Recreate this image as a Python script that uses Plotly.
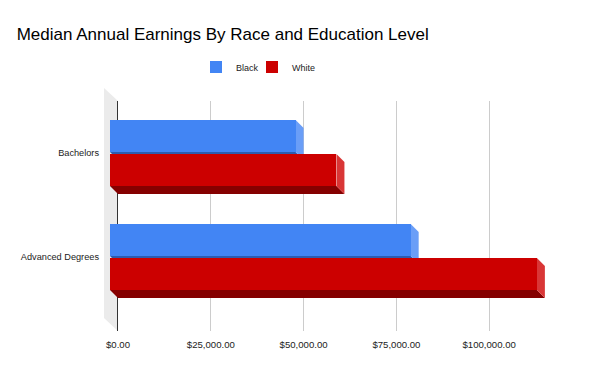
import plotly.graph_objects as go

# ---------------- data ----------------
categories = ["Bachelors", "Advanced Degrees"]
series_names = ["Black", "White"]
black_values = [50000, 81000]
white_values = [61000, 115000]
x_tick_values = [0, 25000, 50000, 75000, 100000, 125000]
x_tick_labels = ["$0.00", "$25,000.00", "$50,000.00", "$75,000.00", "$100,000.00", ""]
title_text = "Median Annual Earnings By Race and Education Level"

# ---------------- style / layout constants ----------------
OFF = 8                       # default page (body) margin of the html page
W, H = 600 - OFF, 371 - OFF
ML, MR, MT, MB = 92, 18, 77, 40
PW, PH = W - ML - MR, H - MT - MB
DEPTH = 8             # 3D offset in px (back plane is right/down of front)
BACK_LEFT = 18        # back plane starts at this px inside plot area
CAT_STEP = 104        # px between category centres
BAR_PX = 32           # bar thickness px
BAR_OFF = 17          # px from category centre to bar centre
X_MAX = 125000
FONT = "Liberation Sans, Arial, sans-serif"

front_colors = ["#4285f4", "#cc0000"]
side_colors = ["#6a9ef7", "#d93636"]
bottom_colors = ["#2c5cb0", "#850000"]

back_w = PW - BACK_LEFT
back_h = PH - DEPTH * 2
x_per_px = X_MAX / back_w


def px_to_paper_x(page_px):
    return (page_px - OFF - ML) / PW


def px_to_paper_y(page_py):
    return (H - MB - (page_py - OFF)) / PH


# front-plane y axis in category units: Advanced=0, Bachelors=1
n = len(categories)
cat_pos = {c: (n - 1 - i) for i, c in enumerate(categories)}
first_center_from_top = 60  # px
y_hi = (first_center_from_top + (n - 1) * CAT_STEP) / CAT_STEP
y_lo = y_hi - back_h / CAT_STEP
u = 1.0 / CAT_STEP

fig = go.Figure()

# invisible trace so the back-plane (grid) subplot is created
fig.add_trace(go.Scatter(x=[0], y=[0], mode="markers", marker=dict(opacity=0),
                         showlegend=False, hoverinfo="skip", xaxis="x", yaxis="y"))

shapes = []
all_values = [black_values, white_values]
legend_ids = ["legend", "legend2"]
dx = DEPTH * x_per_px
dy = DEPTH * u
h = BAR_PX * u / 2
for s, (name, vals) in enumerate(zip(series_names, all_values)):
    sign = 1 if s == 0 else -1
    centers = [cat_pos[c] + sign * BAR_OFF * u for c in categories]
    fig.add_trace(go.Bar(
        x=vals, y=centers, orientation="h", name=name, legend=legend_ids[s],
        width=BAR_PX * u, marker=dict(color=front_colors[s], line=dict(width=0)),
        xaxis="x2", yaxis="y2", hoverinfo="x+name",
    ))
    for v, c in zip(vals, centers):
        shapes.append(dict(  # bottom face
            type="path", xref="x2", yref="y2", layer="between",
            path=f"M0,{c-h} L{v},{c-h} L{v+dx},{c-h-dy} L{dx},{c-h-dy} Z",
            fillcolor=bottom_colors[s], line=dict(width=0),
        ))
        shapes.append(dict(  # right side face
            type="path", xref="x2", yref="y2", layer="between",
            path=f"M{v},{c+h} L{v+dx},{c+h-dy} L{v+dx},{c-h-dy} L{v},{c-h} Z",
            fillcolor=side_colors[s], line=dict(width=0),
        ))

# left wall of the 3D chart
wall = [(104, 88), (118, 101), (118, 331), (104, 318)]
wall_path = "M" + " L".join(f"{px_to_paper_x(a)},{px_to_paper_y(b)}" for a, b in wall) + " Z"
shapes.insert(0, dict(type="path", xref="paper", yref="paper", layer="below",
                      path=wall_path, fillcolor="#ebebeb", line=dict(width=0)))

legend_common = dict(orientation="h", xanchor="left", yanchor="middle",
                     y=px_to_paper_y(67), bgcolor="rgba(0,0,0,0)",
                     font=dict(size=9, color="#222222", family=FONT))

fig.update_layout(
    template="none",
    width=W, height=H,
    margin=dict(l=ML, r=MR, t=MT, b=MB, pad=0),
    paper_bgcolor="white", plot_bgcolor="rgba(0,0,0,0)",
    font=dict(family=FONT, color="#222222"),
    title=dict(text=title_text, x=(16.7 - OFF) / W, xref="container", xanchor="left",
               y=1 - (34 - OFF) / H, yref="container", yanchor="middle",
               font=dict(size=17, color="#000000", family=FONT)),
    showlegend=True,
    legend=dict(x=px_to_paper_x(196), **legend_common),
    legend2=dict(x=px_to_paper_x(252), **legend_common),
    bargap=0,
    # back plane: grid, zero line, value labels
    xaxis=dict(domain=[BACK_LEFT / PW, 1], range=[0, X_MAX], tickvals=x_tick_values,
               ticktext=x_tick_labels, showgrid=True, gridcolor="#cccccc", gridwidth=1,
               zeroline=False, showline=False, ticks="", anchor="y", automargin=False,
               ticklabelstandoff=6,
               tickfont=dict(size=9.6, color="#222222", family=FONT), fixedrange=True),
    yaxis=dict(domain=[0, back_h / PH], range=[0, 1], showgrid=False, zeroline=False,
               showticklabels=False, ticks="", showline=True, linecolor="#333333",
               linewidth=1, layer="below traces", anchor="x", automargin=False,
               fixedrange=True),
    # front plane: bars and category labels
    xaxis2=dict(domain=[(BACK_LEFT - DEPTH) / PW, (PW - DEPTH) / PW], range=[0, X_MAX],
                anchor="y2", visible=False, automargin=False, fixedrange=True),
    yaxis2=dict(domain=[DEPTH / PH, (PH - DEPTH) / PH], range=[y_lo, y_hi],
                anchor="x2", showgrid=False, zeroline=False, showline=False,
                tickvals=[cat_pos[c] for c in categories], ticktext=categories, ticks="",
                ticklabelstandoff=10, automargin=False,
                tickfont=dict(size=9.2, color="#222222", family=FONT), fixedrange=True),
    shapes=shapes,
)

fig.write_html("out.html")
